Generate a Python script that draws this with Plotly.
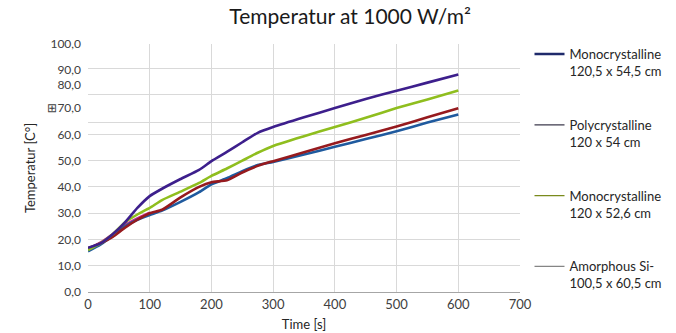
import plotly.graph_objects as go

# ---- data ----
time_s = [0, 20, 40, 60, 80, 100, 120, 150, 180, 200, 225, 250, 275, 300, 350, 400, 450, 500, 550, 600]

mono_1205 = [16.8, 18.5, 22.0, 26.5, 32.0, 36.5, 39.3, 43.0, 46.5, 49.8, 53.3, 57.0, 60.6, 62.8, 66.5, 70.0, 73.5, 76.6, 79.7, 82.8]
mono_120_526 = [16.0, 18.5, 22.0, 26.5, 29.5, 32.0, 35.0, 38.2, 41.5, 44.2, 47.0, 50.0, 53.0, 55.6, 59.3, 62.8, 66.3, 70.0, 73.3, 76.7]
poly_120 = [16.7, 18.5, 21.0, 24.5, 27.5, 30.0, 31.3, 36.0, 40.0, 41.8, 42.5, 45.5, 48.0, 49.8, 53.2, 56.6, 59.8, 63.0, 66.5, 69.9]
amorph = [15.5, 18.0, 21.5, 25.0, 27.5, 29.3, 31.0, 34.3, 38.0, 41.0, 43.3, 46.0, 48.3, 49.5, 52.3, 55.3, 58.2, 61.2, 64.5, 67.6]
extra_time = [0, 20, 40, 60, 80, 100]
extra_vals = [16.3, 18.8, 22.0, 25.5, 28.0, 30.2]

legend_names = [
    "Monocrystalline<br>120,5 x 54,5 cm",
    "Polycrystalline<br>120 x 54 cm",
    "Monocrystalline<br>120 x 52,6 cm",
    "Amorphous Si-<br>100,5 x 60,5 cm",
]
legend_colors = ["#1f2a6b", "#3c3a4c", "#7a8a1c", "#858585"]
legend_widths = [2.5, 1.3, 1.3, 1.3]

x_ticks = [0, 100, 200, 300, 400, 500, 600, 700]
y_grid = [0, 10, 20, 30, 40, 50, 60, 64.6, 75.2, 85.1, 94.4]
y_label_pos = [0, 10, 20, 30, 40, 50, 60, 70.3, 79.0, 84.4, 94.4]
y_label_text = ["0,0", "10,0", "20,0", "30,0", "40,0", "50,0", "60,0", "⊞70,0", "80,0", "90,0", "100,0"]

FONT = "Lato, Open Sans, sans-serif"

fig = go.Figure()

plot_series = [
    (extra_time, extra_vals, "#d0268f"),
    (time_s, amorph, "#1f5a9e"),
    (time_s, poly_120, "#961a1e"),
    (time_s, mono_120_526, "#8fbe1e"),
    (time_s, mono_1205, "#3d1f8c"),
]
for xs, ys, c in plot_series:
    fig.add_trace(go.Scatter(x=xs, y=ys, mode="lines", line=dict(color=c, width=2.6, shape="spline", smoothing=0.5),
                             showlegend=False, hoverinfo="skip"))

for i, (n, c, w) in enumerate(zip(legend_names, legend_colors, legend_widths)):
    fig.add_trace(go.Scatter(x=[None], y=[None], mode="lines", name=n,
                             line=dict(color=c, width=w), legendgroup=f"g{i}"))

# invisible trace to activate the label axis
fig.add_trace(go.Scatter(x=[None], y=[None], yaxis="y2", showlegend=False))

fig.update_layout(
    width=676, height=333,
    margin=dict(l=88, r=156, t=44, b=41, autoexpand=False),
    paper_bgcolor="white", plot_bgcolor="white",
    font=dict(family=FONT, size=13, color="#404040"),
    title=dict(text="Temperatur at 1000 W/m²", x=0.518, xanchor="center", y=0.95, yanchor="middle",
               font=dict(size=21, color="#1a1a1a", family=FONT)),
    xaxis=dict(range=[0, 700], tickvals=x_ticks, showgrid=True, gridcolor="#d9d9d9", gridwidth=1,
               zeroline=False, showline=True, linecolor="#a6a6a6", linewidth=1,
               tickfont=dict(size=13, color="#404040"),
               title=dict(text="Time [s]", font=dict(size=13, color="#262626"), standoff=9)),
    yaxis=dict(range=[0, 94.4], tickvals=y_grid, showticklabels=False, showgrid=True,
               gridcolor="#d9d9d9", gridwidth=1, zeroline=False,
               title=dict(text="Temperatur [C°]", font=dict(size=13, color="#262626"), standoff=48)),
    yaxis2=dict(range=[0, 94.4], overlaying="y", anchor="x", side="left", showgrid=False,
                zeroline=False, tickvals=y_label_pos, ticktext=y_label_text,
                tickfont=dict(size=12, color="#404040"), ticklabelstandoff=6),
    legend=dict(x=1.022, xanchor="left", y=1.02, yanchor="top", valign="top",
                traceorder="grouped", tracegroupgap=34, maxheight=300,
                font=dict(size=13, color="#262626", family=FONT), bgcolor="rgba(0,0,0,0)"),
    showlegend=True,
)

fig.write_html("out.html")
